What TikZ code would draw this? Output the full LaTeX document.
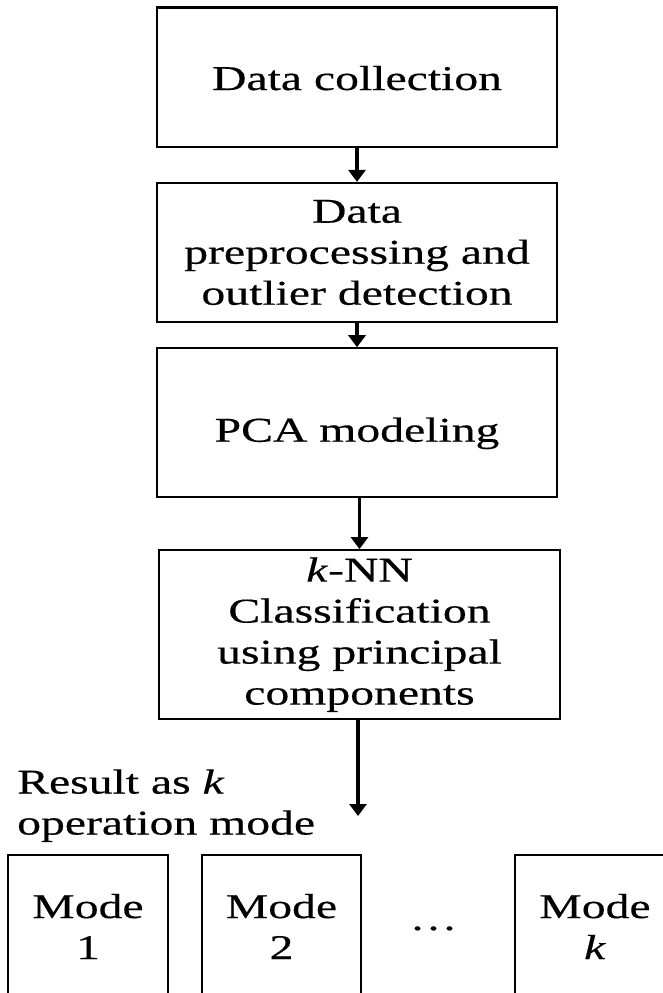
\documentclass[tikz,border=0pt]{standalone}
\usepackage{fontspec}
% Times-metric serif, widened to the proportions of the lettering
\setmainfont[FakeStretch=1.37, FakeBold=0.4]{Liberation Serif}
\usetikzlibrary{arrows.meta}

\newcommand\chartfont{\fontsize{34.8}{41}\selectfont\lineskiplimit=-60pt\relax}

\tikzset{
  txt/.style={font=\chartfont},
  stepbox/.style={txt, draw, line width=2.2pt, minimum width=400pt,
    align=center, inner sep=0pt},
  modebox/.style={txt, draw, line width=2.2pt, minimum width=160pt,
    minimum height=143pt, align=center, inner sep=0pt},
  flow/.style={line width=3.3pt, -{Triangle[width=17pt,length=12pt]}},
}

\begin{document}
\begin{tikzpicture}[x=1pt, y=-1pt]
  \useasboundingbox (0,0) rectangle (663,993);
  \fill[white] (0,0) rectangle (663,993);
  \clip (0,0) rectangle (663,993);

  % processing chain
  \node[stepbox, minimum height=139.5pt, text height=25.5pt, text depth=0pt]
    (collect) at (357,77.25) {Data collection};
  \node[stepbox, minimum height=139pt]
    (prep) at (357,252.5) {Data\\preprocessing and\\outlier detection};
  \node[stepbox, minimum height=149pt, text height=37.8pt, text depth=0pt]
    (pca) at (357,422.8) {PCA modeling};
  \node[stepbox, minimum width=401pt, minimum height=169pt]
    (knn) at (359.5,634.7) {\textit{k}-NN\\Classification\\using principal\\components};

  \draw[flow] (collect) -- (prep);
  \draw[flow] (prep) -- (pca);
  \draw[flow] (pca.south -| knn.north) -- (knn.north);

  \coordinate (result) at (358,816);
  \draw[flow] (knn.south -| result) -- (result);

  \node[txt, align=left, anchor=north west, inner sep=0pt]
    (resultlabel) at (17,769.2) {Result as \textit{k}\\operation mode};

  % resulting operation modes
  \node[modebox] (mode1) at (88,926.5) {Mode\\1};
  \node[modebox, minimum width=159pt] (mode2) at (281.5,926.5) {Mode\\2};
  \node[txt, anchor=base, inner sep=0pt] (gap) at (433.5,930) {…};
  \node[modebox] (modek) at (595,926.5) {Mode\\\textit{k}};
\end{tikzpicture}
\end{document}
